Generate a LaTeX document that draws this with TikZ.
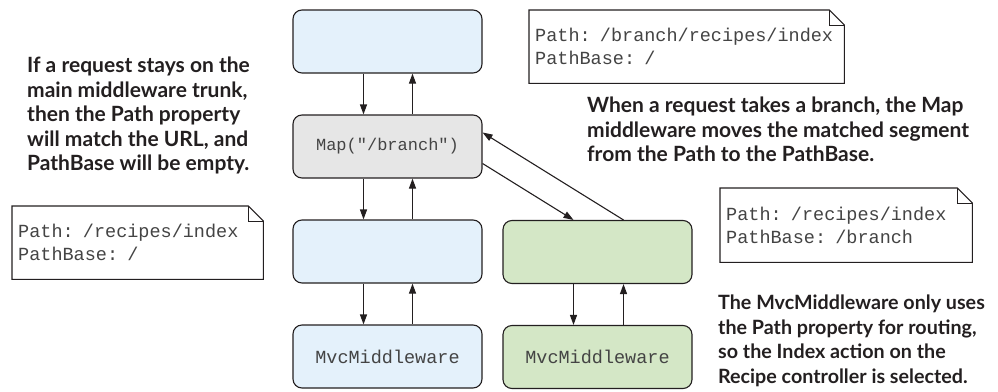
\documentclass[tikz,border=0pt]{standalone}
\usepackage{fontspec}
\setmainfont{Lato}
\setmonofont{Liberation Mono}
\usetikzlibrary{arrows.meta, positioning}

\definecolor{inkdark}{HTML}{231F20}
\definecolor{codegray}{HTML}{444444}
\definecolor{trunkblue}{HTML}{E4F1FB}
\definecolor{mapgray}{HTML}{E6E6E6}
\definecolor{branchgreen}{HTML}{D4E7C6}

\begin{document}
\begin{tikzpicture}[
    x=1pt, y=-1pt,
    mw/.style={draw=inkdark, line width=1.1pt, rounded corners=9pt,
               minimum width=189pt, minimum height=63pt,
               font=\fontsize{18.5}{22}\selectfont\ttfamily, text=codegray},
    notebox/.style={inner xsep=6pt, inner ysep=0pt, anchor=north west,
                    font=\fontsize{18.5}{23}\selectfont\ttfamily, text=codegray,
                    align=left, minimum height=73pt},
    remark/.style={anchor=north west, inner sep=0pt, align=left, text=inkdark,
                   font=\fontsize{21}{24.5}\selectfont\bfseries},
    flow/.style={-{Triangle[length=10pt, width=7pt]}, line width=1.1pt, draw=inkdark},
    >=Stealth
  ]
  \useasboundingbox (0,0) rectangle (998,391);

  % --- main middleware trunk ---
  \node[mw, fill=trunkblue] (top) at (387.5, 41.5) {};
  \node[mw, fill=mapgray, font=\fontsize{17}{20}\selectfont\ttfamily] (map) at (387.5, 146.5) {Map("/branch")};
  \node[mw, fill=trunkblue] (mid) at (387.5, 251.5) {};
  \node[mw, fill=trunkblue] (mvc) at (387.5, 356.5) {MvcMiddleware};
  \draw[flow] ([xshift=-24pt]top.south) -- ([xshift=-24pt]map.north);
  \draw[flow] ([xshift=25pt]map.north) -- ([xshift=25pt]top.south);
  \draw[flow] ([xshift=-24pt]map.south) -- ([xshift=-24pt]mid.north);
  \draw[flow] ([xshift=25pt]mid.north) -- ([xshift=25pt]map.south);
  \draw[flow] ([xshift=-24pt]mid.south) -- ([xshift=-24pt]mvc.north);
  \draw[flow] ([xshift=25pt]mvc.north) -- ([xshift=25pt]mid.south);

  % --- branch ---
  \node[mw, fill=branchgreen] (branch) at (597.5, 252) {};
  \node[mw, fill=branchgreen] (brmvc) at (597.5, 357) {MvcMiddleware};
  \draw[flow] ([xshift=-24pt]branch.south) -- ([xshift=-24pt]brmvc.north);
  \draw[flow] ([xshift=26pt]brmvc.north) -- ([xshift=26pt]branch.south);
  \draw[flow] ([yshift=-17pt]map.east) -- ([xshift=-24pt]branch.north);
  \draw[flow] ([xshift=26pt]branch.north) -- ([yshift=14pt]map.east);

  % --- notes ---
  \node[notebox, text width=303pt] (notetop) at (529, 10)
    {Path: /branch/recipes/index\\PathBase: /};
  \node[notebox, text width=239pt] (noteleft) at (12, 206)
    {Path: /recipes/index\\PathBase: /};
  \node[notebox, text width=240pt, minimum height=74pt] (noteright) at (720, 188)
    {Path: /recipes/index\\PathBase: /branch};
  \foreach \n in {notetop, noteleft, noteright} {
    \draw[draw=inkdark, line width=1.1pt, fill=white]
      (\n.south west) -- (\n.north west) -- ([xshift=-15pt]\n.north east)
      -- ([yshift=-15pt]\n.north east) -- (\n.south east) -- cycle;
    \draw[draw=inkdark, line width=0.9pt]
      ([xshift=-15pt]\n.north east) |- ([yshift=-15pt]\n.north east);
  }
  \node[notebox, text width=303pt, draw=none] at (529, 10)
    {Path: /branch/recipes/index\\PathBase: /};
  \node[notebox, text width=239pt, draw=none] at (12, 206)
    {Path: /recipes/index\\PathBase: /};
  \node[notebox, text width=240pt, minimum height=74pt, draw=none] at (720, 188)
    {Path: /recipes/index\\PathBase: /branch};

  % --- remarks ---
  \node[remark] (trunktxt) at (27, 57)
    {If a request stays on the\\main middleware trunk,\\then the Path property\\will match the URL, and\\PathBase will be empty.};
  \node[remark] (branchtxt) at (587, 97)
    {When a request takes a branch, the Map\\middleware moves the matched segment\\from the Path to the PathBase.};
  \node[remark, font=\fontsize{19.7}{24.5}\selectfont\bfseries] (mvctxt) at (718, 295)
    {The MvcMiddleware only uses\\the Path property for routing,\\so the Index action on the\\Recipe controller is selected.};
\end{tikzpicture}
\end{document}
